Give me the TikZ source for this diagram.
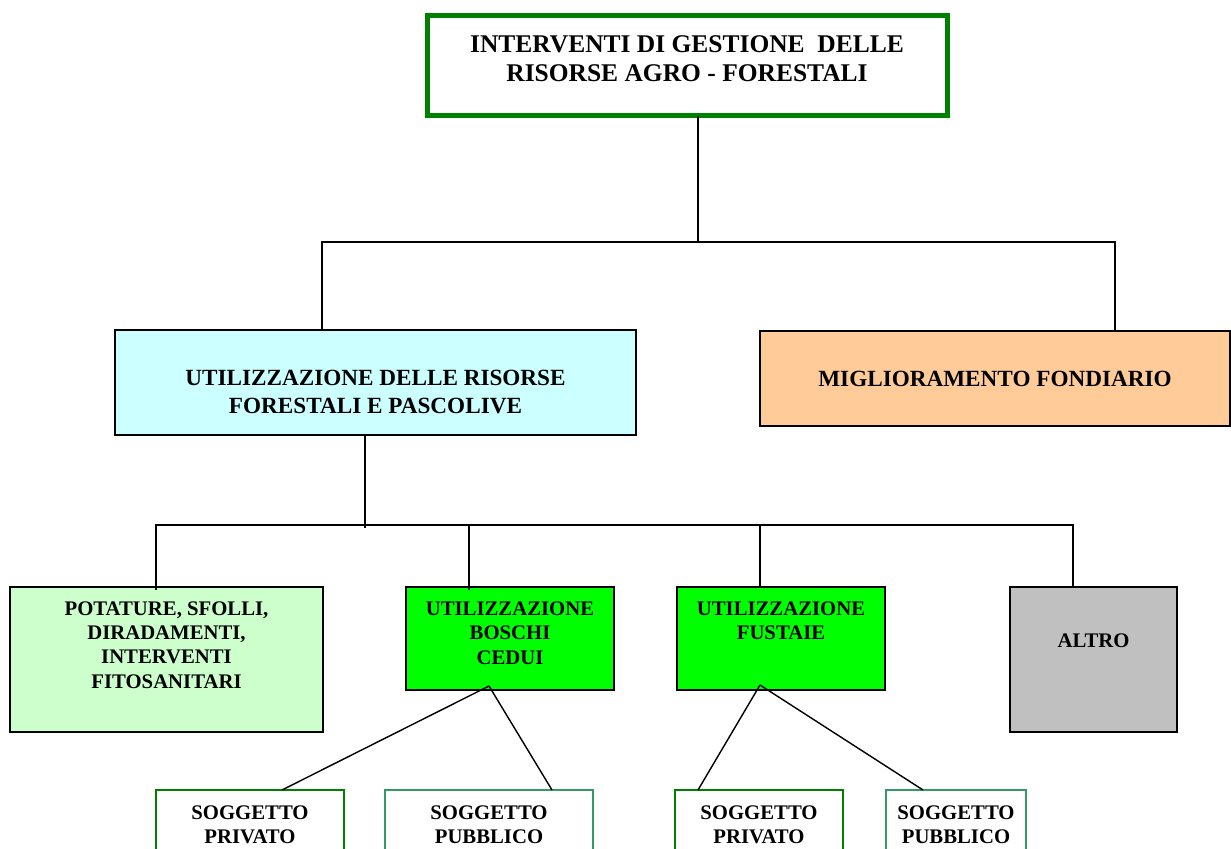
\documentclass[tikz,border=0pt]{standalone}
\usepackage{fontspec}
\setmainfont{Liberation Serif}
\usetikzlibrary{positioning,calc}
\definecolor{rootgreen}{HTML}{008000}
\definecolor{paleblue}{HTML}{CCFFFF}
\definecolor{peach}{HTML}{FFCC99}
\definecolor{palegreen}{HTML}{CCFFCC}
\definecolor{brightgreen}{HTML}{00FF00}
\definecolor{altrogray}{HTML}{C0C0C0}
\definecolor{seagreen}{HTML}{339966}

\begin{document}
\begin{tikzpicture}[
    box/.style={draw, line width=1.1pt, inner sep=0pt, outer sep=0pt, align=center},
    bigfont/.style={font=\bfseries\fontsize{14.5}{16.5}\selectfont},
    midfont/.style={font=\bfseries\fontsize{13.2}{16}\selectfont},
    smallfont/.style={font=\bfseries\fontsize{11.8}{13.8}\selectfont},
    link/.style={line width=0.8pt}]
    \useasboundingbox (0,0) rectangle (24.62,-16.98);
    \clip (0,0) rectangle (24.62,-16.98);

    % --- Root ---
    \node[box, bigfont, draw=rootgreen, line width=0.1cm, minimum width=10.4cm, minimum height=2cm, text depth=0.3cm]
        (root) at (13.74,-1.32) {INTERVENTI DI GESTIONE\ \ DELLE\\RISORSE AGRO - FORESTALI};

    % --- Second level ---
    \node[box, midfont, fill=paleblue, minimum width=10.42cm, minimum height=2.1cm, text height=1.23cm, text depth=0pt]
        (util) at (7.51,-7.65) {UTILIZZAZIONE DELLE RISORSE\\FORESTALI E PASCOLIVE};
    \node[box, midfont, fill=peach, minimum width=9.4cm, minimum height=1.9cm]
        (migl) at (19.90,-7.57) {MIGLIORAMENTO FONDIARIO};

    % --- Third level ---
    \node[box, smallfont, fill=palegreen, minimum width=6.26cm, minimum height=2.9cm, text depth=0.58cm]
        (potat) at (3.33,-13.19) {POTATURE, SFOLLI,\\DIRADAMENTI,\\INTERVENTI\\FITOSANITARI};
    \node[box, smallfont, fill=brightgreen, minimum width=4.16cm, minimum height=2.06cm, text depth=0.22cm]
        (cedui) at (10.20,-12.77) {UTILIZZAZIONE\\BOSCHI\\CEDUI};
    \node[box, smallfont, fill=brightgreen, minimum width=4.16cm, minimum height=2.06cm, text depth=0.7cm]
        (fust) at (15.62,-12.77) {UTILIZZAZIONE\\FUSTAIE};
    \node[box, smallfont, fill=altrogray, minimum width=3.34cm, minimum height=2.9cm, text depth=0.74cm]
        (altro) at (21.87,-13.19) {ALTRO};

    % --- Soggetti ---
    \node[box, smallfont, draw=rootgreen, minimum width=3.76cm, minimum height=1.4cm]
        (privA) at (5.00,-16.50) {SOGGETTO\\PRIVATO};
    \node[box, smallfont, draw=seagreen, minimum width=4.16cm, minimum height=1.4cm]
        (pubA) at (9.78,-16.50) {SOGGETTO\\PUBBLICO};
    \node[box, smallfont, draw=rootgreen, minimum width=3.36cm, minimum height=1.4cm]
        (privB) at (15.18,-16.50) {SOGGETTO\\PRIVATO};
    \node[box, smallfont, draw=seagreen, minimum width=2.8cm, minimum height=1.4cm]
        (pubB) at (19.12,-16.50) {SOGGETTO\\PUBBLICO};

    % Junction points
    \coordinate (j1) at (13.96,-4.84);
    \coordinate (j1l) at (6.44,-4.84);
    \coordinate (j1r) at (22.30,-4.84);
    \coordinate (j2) at (7.30,-10.50);
    \coordinate (j2a) at (3.12,-10.50);
    \coordinate (j2b) at (9.38,-10.50);
    \coordinate (j2c) at (15.20,-10.50);
    \coordinate (j2d) at (21.46,-10.50);
    \coordinate (ca) at (9.78,-13.72);
    \coordinate (fa) at (15.20,-13.70);
    \coordinate (ea) at (5.64,-15.80);
    \coordinate (eb) at (11.04,-15.80);
    \coordinate (ec) at (13.96,-15.80);
    \coordinate (ed) at (18.46,-15.80);

    % Connectors
    \draw[link] (j1 |- root.south) -- (j1);
    \draw[link] (j1l |- util.north) -- (j1l) -- (j1r) -- (j1r |- migl.north);
    \draw[link] (j2 |- util.south) -- ([yshift=-0.06cm]j2);
    \draw[link] ([yshift=-0.06cm]j2a |- potat.north) -- (j2a) -- (j2d) -- (j2d |- altro.north);
    \draw[link] ([yshift=-0.06cm]j2b |- cedui.north) -- (j2b);
    \draw[link] (j2c |- fust.north) -- (j2c);
    \draw[link] (ca) -- (ea |- privA.north);
    \draw[link] (ca) -- (eb |- pubA.north);
    \draw[link] (fa) -- (ec |- privB.north);
    \draw[link] (fa) -- (ed |- pubB.north);
\end{tikzpicture}
\end{document}
